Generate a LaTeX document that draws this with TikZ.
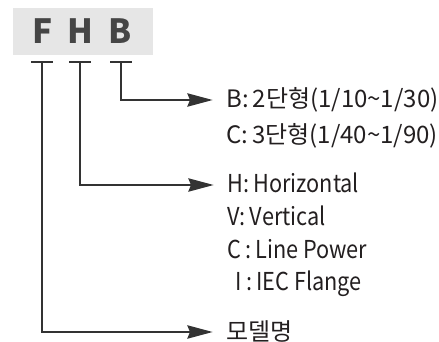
\documentclass[tikz,border=0pt]{standalone}
\usepackage{fontspec}
\setmainfont{Noto Sans CJK KR}
\newfontfamily\narrowfont{Noto Sans CJK KR}[FakeStretch=0.88]
\usepackage{xcolor}
\usepackage{tikz}
\usetikzlibrary{positioning,arrows.meta}

\definecolor{codegray}{HTML}{E6E6E6}
\definecolor{lettergray}{HTML}{454545}
\definecolor{linegray}{HTML}{333333}
\definecolor{textblack}{HTML}{231F20}

\begin{document}
\begin{tikzpicture}[
  x=0.75pt, y=-0.75pt,
  box/.style={fill=codegray, rectangle, minimum width=105pt, minimum height=35.25pt, inner sep=0pt},
  letter/.style={font=\fontsize{25}{25}\selectfont\bfseries, text=lettergray, anchor=base, inner sep=0pt},
  desc/.style={font=\fontsize{18}{18}\selectfont, text=textblack, anchor=west, inner sep=0pt, text height=12pt, text depth=0pt},
  descn/.style={desc, font=\fontsize{18.5}{18}\narrowfont},
  tbar/.style={linegray, line width=1.7pt},
  arr/.style={-{Stealth[length=19pt, width=10pt, inset=2pt]}, linegray, line width=1.4pt, shorten >=10pt}
]
\useasboundingbox (0,0) rectangle (439,342);

% Model code
\node[box] (code) at (83,31.5) {};
\node[letter] (letF) at (43,44) {F};
\node[letter] (letH) at (80,44) {H};
\node[letter] (letB) at (120,44) {B};

% Descriptions
\node[desc] (lblB) at (226,100) {B:\,2단형(1/10\textasciitilde1/30)};
\node[desc, below=14.25pt of lblB.south west, anchor=north west] (lblBc) {C:\,3단형(1/40\textasciitilde1/90)};
\node[descn] (lblH) at (227,185) {H:\,Horizontal};
\node[descn, below=12pt of lblH.south west, anchor=north west] (lblHv) {V:\,Vertical};
\node[descn, below=12pt of lblHv.south west, anchor=north west] (lblHc) {C\,:\,Line Power};
\node[descn, below=12pt of lblHc.south west, anchor=north west] (lblHi) {\hspace{0.35em}I\,:\,IEC Flange};
\node[desc] (lblF) at (226,332) {모델명};

% T marks under the letters
\coordinate (tF) at (42,62);
\coordinate (tH) at (80,62);
\coordinate (tB) at (121,62);
\foreach \t in {tF,tH,tB}
  \draw[tbar] ([xshift=-8.25pt]\t) -- ([xshift=8.25pt]\t);

% Arrows
\draw[arr] (tB) |- (lblB);
\draw[arr] (tH) |- (lblH);
\draw[arr] (tF) |- (lblF);

\end{tikzpicture}
\end{document}
